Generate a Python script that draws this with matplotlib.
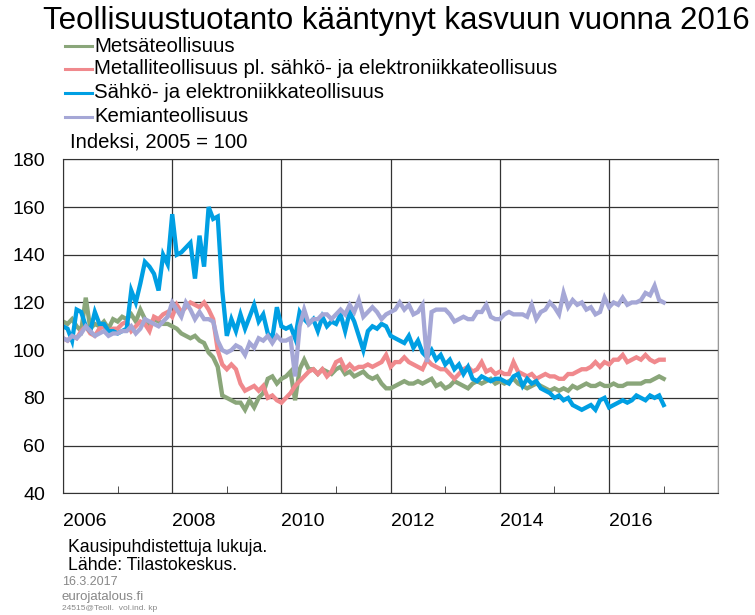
import numpy as np
import matplotlib
matplotlib.use("Agg")
import matplotlib.pyplot as plt
from matplotlib.lines import Line2D

# Monthly index values (2005 = 100), Jan 2006 - Jan 2017
metsa = [112, 111, 113, 110, 108, 122, 109, 111, 110, 112, 109, 113,
         112, 114, 113, 115, 112, 117, 113, 111, 113, 112, 111, 111,
         110, 109, 107, 106, 105, 106, 104, 103, 99, 97, 93, 81,
         80, 79, 78, 78, 75, 79, 76, 80, 82, 88, 89, 86,
         88, 89, 91, 79, 92, 96, 92, 92, 90, 92, 91, 90,
         92, 93, 90, 91, 89, 90, 91, 89, 88, 89, 86, 84,
         84, 85, 86, 87, 86, 86, 87, 86, 87, 88, 85, 86,
         84, 85, 87, 86, 85, 84, 86, 87, 86, 87, 88, 86,
         87, 86, 87, 88, 86, 85, 84, 85, 86, 85, 84, 83,
         84, 83, 84, 83, 85, 84, 85, 86, 85, 85, 86, 85,
         85, 86, 85, 85, 86, 86, 86, 86, 87, 87, 88, 89,
         88]
metalli = [105, 104, 106, 105, 108, 110, 107, 106, 109, 110, 108, 109,
           109, 111, 112, 108, 110, 112, 111, 108, 114, 113, 115, 116,
           114, 119, 116, 118, 120, 119, 118, 120, 117, 113, 100, 94,
           92, 94, 92, 86, 83, 84, 85, 83, 85, 80, 81, 79,
           78, 80, 82, 85, 87, 89, 91, 92, 90, 92, 89, 91,
           95, 96, 92, 94, 92, 93, 93, 94, 93, 94, 95, 98,
           93, 95, 95, 97, 95, 94, 93, 92, 96, 94, 93, 92,
           92, 90, 88, 90, 92, 93, 91, 92, 95, 91, 92, 90,
           91, 90, 90, 95, 91, 90, 89, 90, 88, 89, 90, 89,
           89, 88, 88, 90, 90, 91, 92, 92, 93, 95, 93, 95,
           94, 96, 96, 98, 95, 96, 97, 96, 98, 96, 95, 96,
           96]
sahko = [110, 109, 104, 117, 116, 110, 108, 116, 111, 111, 108, 108,
         107, 108, 109, 125, 120, 128, 137, 135, 132, 125, 140, 136,
         157, 140, 141, 143, 145, 130, 148, 135, 160, 155, 156, 125,
         106, 113, 108, 115, 109, 114, 119, 112, 115, 107, 105, 118,
         110, 109, 110, 105, 116, 113, 111, 113, 108, 114, 110, 112,
         111, 115, 108, 116, 112, 106, 100, 108, 110, 109, 111, 110,
         106, 105, 104, 103, 106, 101, 104, 99, 97, 100, 96, 98,
         94, 96, 92, 94, 90, 93, 88, 87, 89, 88, 87, 88,
         88, 87, 86, 89, 90, 85, 88, 86, 87, 84, 83, 82,
         80, 81, 79, 80, 77, 76, 75, 76, 77, 75, 79, 80,
         76, 77, 78, 79, 78, 79, 81, 80, 79, 81, 80, 81,
         77]
kemian = [105, 104, 106, 105, 107, 110, 108, 106, 107, 108, 106, 107,
          107, 108, 108, 110, 107, 109, 113, 112, 111, 110, 112, 114,
          120, 117, 114, 120, 117, 113, 116, 113, 113, 112, 104, 100,
          99, 100, 102, 101, 98, 103, 101, 105, 104, 106, 103, 106,
          104, 104, 105, 89, 110, 117, 111, 113, 113, 115, 115, 113,
          115, 117, 115, 119, 116, 121, 114, 116, 118, 116, 113, 115,
          116, 117, 120, 117, 119, 115, 116, 119, 95, 116, 117, 117,
          117, 115, 112, 113, 114, 113, 113, 116, 116, 119, 114, 113,
          113, 115, 116, 115, 115, 115, 114, 119, 113, 116, 117, 120,
          118, 115, 124, 118, 121, 119, 120, 117, 118, 115, 116, 122,
          118, 120, 119, 122, 119, 120, 120, 121, 124, 123, 127, 121,
          120]

labels = ["Metsäteollisuus",
          "Metalliteollisuus pl. sähkö- ja elektroniikkateollisuus",
          "Sähkö- ja elektroniikkateollisuus",
          "Kemianteollisuus"]
colors = ["#8aa67a", "#f0898d", "#009fe3", "#a5a7d6"]
series = [metsa, metalli, sahko, kemian]

x = 2006 + np.arange(len(metsa)) / 12

plt.rcParams["font.family"] = ["Liberation Sans", "DejaVu Sans"]

W, H = 755, 615
fig = plt.figure(figsize=(W / 100, H / 100), dpi=100)
ax = fig.add_axes([63 / W, 1 - 493.3 / H, (718.3 - 63) / W, (493.3 - 159.3) / H])

for vals, c in zip(series, colors):
    ax.plot(x, vals, color=c, lw=3.1, solid_joinstyle="miter")

ax.set_xlim(2006, 2018)
ax.set_ylim(40, 180)
ax.set_yticks(np.arange(40, 181, 20))
ax.set_xticks(np.arange(2006, 2019, 2))
ax.set_xticks(np.arange(2007, 2018, 2), minor=True)
ax.set_xticklabels([str(y) for y in range(2006, 2017, 2)] + [""], ha="left")
ax.grid(True, which="major", color="#333333", lw=0.9)
ax.set_axisbelow(True)
ax.tick_params(axis="y", length=0, pad=13, labelsize=14)
ax.tick_params(axis="x", which="major", length=0, pad=14, labelsize=14)
ax.tick_params(axis="x", which="minor", length=5, direction="in", color="#333333")
for s in ["left", "bottom", "top"]:
    ax.spines[s].set_color("#333333")
ax.spines["right"].set_color("#999999")

fig.text(396 / W, 1 - 29 / H, "Teollisuustuotanto kääntynyt kasvuun vuonna 2016",
         ha="center", va="baseline", fontsize=22.5)

legend_y = [46, 69, 93, 117]
for lab, c, yy in zip(labels, colors, legend_y):
    fig.add_artist(Line2D([65 / W, 92 / W], [1 - yy / H, 1 - yy / H], color=c, lw=2.2))
    fig.text(94 / W, 1 - yy / H, lab, ha="left", va="center", fontsize=14.7)

fig.text(70 / W, 1 - 142 / H, "Indeksi, 2005 = 100", ha="left", va="center", fontsize=14.6)

fig.text(68 / W, 1 - 548 / H, "Kausipuhdistettuja lukuja.", ha="left", va="center", fontsize=12.7)
fig.text(68 / W, 1 - 566 / H, "Lähde: Tilastokeskus.", ha="left", va="center", fontsize=12.7)
fig.text(62 / W, 1 - 582 / H, "16.3.2017", ha="left", va="center", fontsize=9,
         color="#888888")
fig.text(62 / W, 1 - 597 / H, "eurojatalous.fi", ha="left", va="center", fontsize=9.5,
         color="#888888")
fig.text(62 / W, 1 - 609 / H, "24515@Teoll.  vol.ind. kp", ha="left", va="center",
         fontsize=6, color="#888888")

fig.savefig("out.png", dpi=100)
